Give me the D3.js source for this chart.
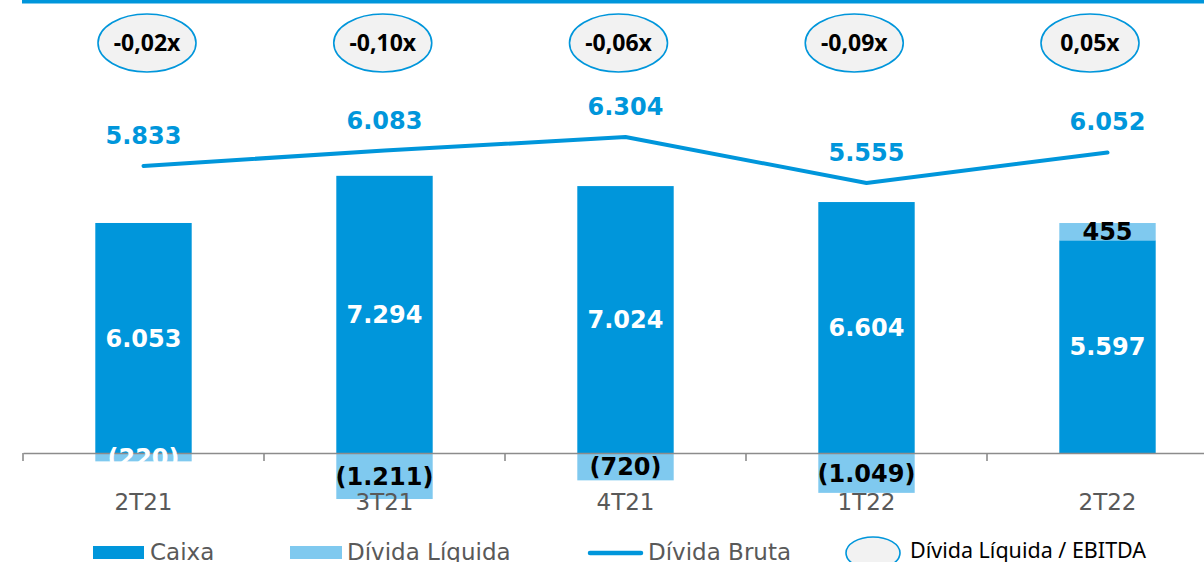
<!DOCTYPE html>
<html>
<head>
<meta charset="utf-8">
<script src="https://cdn.jsdelivr.net/npm/d3@7"></script>
<style>
  html, body { margin: 0; padding: 0; background: #fff; }
  svg { display: block; }
</style>
</head>
<body>
<svg id="chart" width="1204" height="562"></svg>
<script>
// Quarterly cash, net debt, gross debt and leverage (R$ mi)
const categories   = ["2T21", "3T21", "4T21", "1T22", "2T22"];
const caixa        = [6053, 7294, 7024, 6604, 5597];
const dividaLiq    = [-220, -1211, -720, -1049, 455];
const dividaBruta  = [5833, 6083, 6304, 5555, 6052];
const alavancagem  = ["-0,02x", "-0,10x", "-0,06x", "-0,09x", "0,05x"];
const legendLabels = ["Caixa", "Dívida Líquida", "Dívida Bruta", "Dívida Líquida / EBITDA"];

const fmt = v => {
  const s = d3.format(",")(Math.abs(v)).replace(/,/g, ".");
  return v < 0 ? "(" + s + ")" : s;
};

const W = 1204, H = 562;
const BLUE = "#0096DB", LIGHT = "#7FC9EF", GREY = "#595959";
const BOLD = "'DejaVu Sans', Verdana, sans-serif";
const SANS = "'Noto Sans', 'Open Sans', sans-serif";

const svg = d3.select("#chart");

// header rule
svg.append("rect").attr("x", 22).attr("y", 0).attr("width", W - 22).attr("height", 3.5).attr("fill", BLUE);

const x = d3.scaleBand().domain(categories).range([23, 1228]);
const step = x.step();
const bw = step * 0.4;
const cx = c => x(c) + step / 2;

// bars share one scale, the gross-debt line has its own
const y = d3.scaleLinear().domain([0, 8000]).range([453, 149]);
const yL = d3.scaleLinear().domain([5000, 6500]).range([217, 125]);

const rows = categories.map((c, i) => ({
  c, caixa: caixa[i], liq: dividaLiq[i], bruta: dividaBruta[i], lev: alavancagem[i]
}));

// Caixa bars
svg.append("g").selectAll("rect").data(rows).join("rect")
  .attr("x", d => cx(d.c) - bw / 2)
  .attr("width", bw)
  .attr("y", d => y(d.caixa))
  .attr("height", d => y(0) - y(d.caixa))
  .attr("fill", BLUE);

// Net debt segments: stacked on top when positive, below zero when negative
const liqSeg = d => d.liq >= 0 ? [d.caixa, d.caixa + d.liq] : [d.liq, 0];
svg.append("g").selectAll("rect").data(rows).join("rect")
  .attr("x", d => cx(d.c) - bw / 2)
  .attr("width", bw)
  .attr("y", d => y(liqSeg(d)[1]))
  .attr("height", d => y(liqSeg(d)[0]) - y(liqSeg(d)[1]))
  .attr("fill", LIGHT);

// x axis
const axis = svg.append("g").attr("transform", `translate(0,${y(0)})`)
  .call(d3.axisBottom(x).tickSize(0).tickSizeOuter(0));
axis.select(".domain").attr("stroke", "#8C8C8C").attr("stroke-width", 1.6);
axis.selectAll(".tick text")
  .attr("y", 57).attr("dy", 0)
  .attr("font-family", BOLD).attr("font-size", 23).attr("fill", GREY);
axis.selectAll(".tick line").remove();
// category boundary ticks
axis.append("g").selectAll("line").data(categories.concat([null])).join("line")
  .attr("x1", d => d === null ? x.range()[1] : x(d))
  .attr("x2", d => d === null ? x.range()[1] : x(d))
  .attr("y1", 0).attr("y2", 8)
  .attr("stroke", "#8C8C8C").attr("stroke-width", 1.6);
axis.raise();
axis.selectAll(".tick").raise();

// Dívida Bruta line
const line = d3.line().x(d => cx(d.c)).y(d => yL(d.bruta));
svg.append("path").datum(rows)
  .attr("d", line)
  .attr("fill", "none").attr("stroke", BLUE).attr("stroke-width", 4)
  .attr("stroke-linecap", "round").attr("stroke-linejoin", "round");

svg.append("g").selectAll("text").data(rows).join("text")
  .attr("x", d => cx(d.c)).attr("y", d => yL(d.bruta) - 22)
  .attr("text-anchor", "middle")
  .attr("font-family", BOLD).attr("font-weight", "bold").attr("font-size", 24)
  .attr("fill", BLUE)
  .text(d => fmt(d.bruta));

// value labels inside bars
svg.append("g").selectAll("text").data(rows).join("text")
  .attr("x", d => cx(d.c)).attr("y", d => (y(0) + y(d.caixa)) / 2)
  .attr("dy", "0.36em").attr("text-anchor", "middle")
  .attr("font-family", BOLD).attr("font-weight", "bold").attr("font-size", 24)
  .attr("fill", "#fff")
  .text(d => fmt(d.caixa));

svg.append("g").selectAll("text").data(rows).join("text")
  .attr("x", d => cx(d.c))
  .attr("y", d => (y(liqSeg(d)[0]) + y(liqSeg(d)[1])) / 2)
  .attr("dy", "0.36em").attr("text-anchor", "middle")
  .attr("font-family", BOLD).attr("font-weight", "bold").attr("font-size", 24)
  .attr("fill", d => (y(liqSeg(d)[0]) - y(liqSeg(d)[1])) < 12 ? "#fff" : "#000")
  .text(d => fmt(d.liq));

// leverage bubbles
const xe = d3.scalePoint().domain(categories).range([147, 1090]);
const bub = svg.append("g").selectAll("g").data(rows).join("g")
  .attr("transform", d => `translate(${xe(d.c)},43)`);
bub.append("ellipse").attr("rx", 49).attr("ry", 29)
  .attr("fill", "#F2F2F2").attr("stroke", BLUE).attr("stroke-width", 1.6);
bub.append("text").attr("text-anchor", "middle").attr("dy", "0.36em")
  .attr("font-family", SANS).attr("font-weight", "bold").attr("font-size", 23)
  .attr("fill", "#000")
  .text(d => d.lev);

// legend
const lg = svg.append("g");
lg.append("rect").attr("x", 93).attr("y", 546).attr("width", 51).attr("height", 13).attr("fill", BLUE);
lg.append("text").attr("x", 150).attr("y", 560).text(legendLabels[0])
  .attr("font-family", BOLD).attr("font-size", 23).attr("fill", GREY);
lg.append("rect").attr("x", 290).attr("y", 546).attr("width", 52).attr("height", 13).attr("fill", LIGHT);
lg.append("text").attr("x", 347).attr("y", 560).text(legendLabels[1])
  .attr("font-family", BOLD).attr("font-size", 23).attr("fill", GREY);
lg.append("line").attr("x1", 590).attr("x2", 641).attr("y1", 553).attr("y2", 553)
  .attr("stroke", BLUE).attr("stroke-width", 4.5).attr("stroke-linecap", "round");
lg.append("text").attr("x", 648).attr("y", 560).text(legendLabels[2])
  .attr("font-family", BOLD).attr("font-size", 23).attr("fill", GREY);
lg.append("ellipse").attr("cx", 873).attr("cy", 553).attr("rx", 27).attr("ry", 16)
  .attr("fill", "#F2F2F2").attr("stroke", BLUE).attr("stroke-width", 1.6);
lg.append("text").attr("x", 910).attr("y", 558).text(legendLabels[3])
  .attr("font-family", SANS).attr("font-size", 21.5).attr("fill", "#000");
</script>
</body>
</html>
